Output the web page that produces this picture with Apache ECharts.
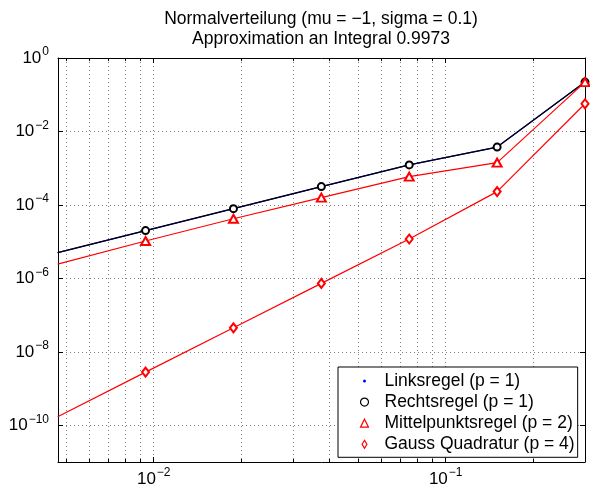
<!DOCTYPE html>
<html>
<head>
<meta charset="utf-8">
<script src="https://cdn.jsdelivr.net/npm/echarts@6/dist/echarts.min.js"></script>
<style>
  html, body { margin: 0; padding: 0; background: #fff; }
  #chart { width: 590px; height: 494px; }
</style>
</head>
<body>
<div id="chart"></div>
<script>
// Step sizes h and the absolute error of each quadrature rule
const stepSizes = [0.3, 0.15, 0.075, 0.0375, 0.01875, 0.009375, 0.0046875];
const errLinks  = [0.221, 3.75e-3, 1.23e-3, 3.15e-4, 7.9e-5, 2.0e-5, 5.0e-6];
const errRechts = [0.221, 3.75e-3, 1.23e-3, 3.15e-4, 7.9e-5, 2.0e-5, 5.0e-6];
const errMittel = [0.221, 1.42e-3, 5.9e-4, 1.58e-4, 4.2e-5, 1.04e-5, 2.45e-6];
const errGauss  = [0.0567, 2.3e-4, 1.18e-5, 7.3e-7, 4.5e-8, 2.8e-9, 1.7e-10];

const seriesNames = [
  'Linksregel (p = 1)',
  'Rechtsregel (p = 1)',
  'Mittelpunktsregel (p = 2)',
  'Gauss Quadratur (p = 4)'
];
const titleLines = [
  'Normalverteilung (mu = \u22121, sigma = 0.1)',
  'Approximation an Integral 0.9973'
];

// Axis ranges and tick positions
const xRange = [0.0047, 0.3];
const yRange = [1e-11, 1];
const xMajorTicks = [0.01, 0.1];
const xMinorTicks = [0.005, 0.006, 0.007, 0.008, 0.009,
                     0.02, 0.03, 0.04, 0.05, 0.06, 0.07, 0.08, 0.09, 0.2];
const yTicks = [1e-10, 1e-8, 1e-6, 1e-4, 1e-2, 1];

const FONT = '"Liberation Sans", Arial, Helvetica, sans-serif';
const gridDots = { show: true, lineStyle: { color: '#808080', width: 1, type: [1, 3] } };

function powLabel(v) {
  const e = Math.round(Math.log10(v));
  const exp = e < 0 ? '\u2212' + (-e) : String(e);
  return '{b|10}{s|' + exp + '}';
}
const powRich = {
  b: { fontSize: 17, fontFamily: FONT, color: '#000', lineHeight: 24 },
  s: { fontSize: 12, fontFamily: FONT, color: '#000', verticalAlign: 'top', padding: [0, 0, 0, 1] }
};

function logAxis(range, extra) {
  return Object.assign({
    type: 'log', logBase: 10, min: range[0], max: range[1],
    axisLine: { show: false, onZero: false, lineStyle: { color: '#000', width: 1 } },
    axisTick: { show: false },
    axisLabel: { show: false },
    splitLine: { show: false },
    minorTick: { show: false },
    minorSplitLine: { show: false }
  }, extra);
}
const tickStyle = { color: '#000', width: 1 };
const boxLine = { show: true, onZero: false, lineStyle: { color: '#000', width: 1 } };

const chart = echarts.init(document.getElementById('chart'), null, { renderer: 'canvas' });

const toPoints = arr => stepSizes.map((h, i) => [h, arr[i]]);

chart.setOption({
  animation: false,
  backgroundColor: '#fff',
  title: {
    text: titleLines.join('\n'),
    left: 321,
    textAlign: 'center',
    top: 9,
    padding: 0,
    textStyle: { fontSize: 17.5, fontWeight: 'normal', color: '#000', fontFamily: FONT, lineHeight: 20 }
  },
  grid: { left: 58, right: 5, top: 58, bottom: 32 },
  xAxis: [
    logAxis(xRange, {
      position: 'bottom',
      axisLine: boxLine,
      axisTick: { show: true, inside: true, length: 5, customValues: xMajorTicks, lineStyle: tickStyle },
      axisLabel: { show: true, customValues: xMajorTicks, formatter: powLabel, rich: powRich, margin: 5 },
      splitLine: gridDots
    }),
    logAxis(xRange, {
      position: 'top',
      axisLine: boxLine,
      axisTick: { show: true, inside: true, length: 5, customValues: xMajorTicks, lineStyle: tickStyle }
    }),
    logAxis(xRange, {
      position: 'bottom',
      axisTick: { show: true, inside: true, length: 3, customValues: xMinorTicks, lineStyle: tickStyle },
      splitLine: gridDots
    }),
    logAxis(xRange, {
      position: 'top',
      axisTick: { show: true, inside: true, length: 3, customValues: xMinorTicks, lineStyle: tickStyle }
    })
  ],
  yAxis: [
    logAxis(yRange, {
      position: 'left',
      axisLine: boxLine,
      axisTick: { show: true, inside: true, length: 5, customValues: yTicks, lineStyle: tickStyle },
      axisLabel: { show: true, customValues: yTicks, formatter: powLabel, rich: powRich, margin: 9 },
      splitLine: gridDots
    }),
    logAxis(yRange, {
      position: 'right',
      axisLine: boxLine,
      axisTick: { show: true, inside: true, length: 5, customValues: yTicks, lineStyle: tickStyle }
    })
  ],
  legend: {
    orient: 'vertical',
    left: 338, top: 367,
    padding: [5, 3, 4, 20],
    itemGap: 3.1,
    itemWidth: 8, itemHeight: 8,
    backgroundColor: '#fff',
    borderColor: '#000', borderWidth: 1, borderRadius: 0,
    textStyle: { fontSize: 17.5, color: '#000', fontFamily: FONT, padding: [0, 0, 0, 11] },
    data: [
      { name: seriesNames[0], icon: 'circle', itemStyle: { color: '#0000ff', borderColor: '#fff', borderWidth: 5 } },
      { name: seriesNames[1], icon: 'circle', itemStyle: { color: 'transparent', borderColor: '#000', borderWidth: 1.2 } },
      { name: seriesNames[2], icon: 'triangle', itemStyle: { color: 'transparent', borderColor: '#ff0000', borderWidth: 1.2 } },
      { name: seriesNames[3], icon: 'path://M4,0 L7,5 L4,10 L1,5 Z', itemStyle: { color: 'transparent', borderColor: '#ff0000', borderWidth: 1.2 } }
    ]
  },
  series: [
    {
      name: seriesNames[0], type: 'line', data: toPoints(errLinks),
      symbol: 'circle', symbolSize: 2, clip: true,
      itemStyle: { color: '#0000ff' },
      lineStyle: { color: '#0000ff', width: 1.2 }
    },
    {
      name: seriesNames[1], type: 'line', data: toPoints(errRechts),
      symbol: 'emptyCircle', symbolSize: 7, clip: true,
      itemStyle: { color: '#000', borderWidth: 1.2 },
      lineStyle: { color: '#000', width: 1.2 }
    },
    {
      name: seriesNames[2], type: 'line', data: toPoints(errMittel),
      symbol: 'emptyTriangle', symbolSize: [9, 8], clip: true,
      itemStyle: { color: '#ff0000', borderWidth: 1.2 },
      lineStyle: { color: '#ff0000', width: 1.2 }
    },
    {
      name: seriesNames[3], type: 'line', data: toPoints(errGauss),
      symbol: 'emptyDiamond', symbolSize: [7, 9], clip: true,
      itemStyle: { color: '#ff0000', borderWidth: 1.2 },
      lineStyle: { color: '#ff0000', width: 1.2 }
    }
  ]
});
</script>
</body>
</html>
